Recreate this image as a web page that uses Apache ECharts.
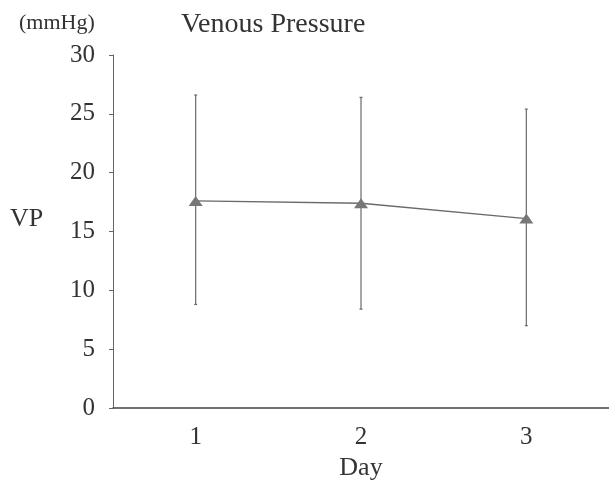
<!DOCTYPE html>
<html>
<head>
<meta charset="utf-8">
<script src="https://cdn.jsdelivr.net/npm/echarts@6/dist/echarts.min.js"></script>
<style>
html,body{margin:0;padding:0;background:#fff;}
#c{width:609px;height:485px;}
</style>
</head>
<body>
<div id="c"></div>
<script>
var days = ['1', '2', '3'];
var vpMean = [17.6, 17.4, 16.1];
var vpUpper = [26.6, 26.4, 25.4];
var vpLower = [8.8, 8.4, 7.0];
var yTicks = [0, 5, 10, 15, 20, 25, 30];

var FONT = '"Liberation Serif", "DejaVu Serif", serif';
var TXT = '#333';
var LINE = '#6a6a6a';

var chart = echarts.init(document.getElementById('c'));
var errData = days.map(function (d, i) { return [i, vpLower[i], vpUpper[i]]; });

chart.setOption({
  animation: false,
  backgroundColor: '#fff',
  title: [
    { text: 'Venous Pressure', left: 176, top: 6, textStyle: { fontFamily: FONT, fontSize: 28, fontWeight: 'normal', color: TXT } },
    { text: '(mmHg)', left: 14, top: 7, textStyle: { fontFamily: FONT, fontSize: 22, fontWeight: 'normal', color: TXT } },
    { text: 'VP', left: 5, top: 201, textStyle: { fontFamily: FONT, fontSize: 26, fontWeight: 'normal', color: TXT } }
  ],
  grid: { left: 113, right: 0, top: 55, bottom: 77, containLabel: false, outerBoundsMode: 'none' },
  xAxis: {
    type: 'category',
    data: days,
    boundaryGap: true,
    name: 'Day',
    nameLocation: 'middle',
    nameGap: 47,
    nameTextStyle: { fontFamily: FONT, fontSize: 26, color: TXT },
    axisLine: { lineStyle: { color: '#444', width: 1.5 } },
    axisTick: { alignWithLabel: true, length: 3, lineStyle: { color: '#666' } },
    axisLabel: { fontFamily: FONT, fontSize: 25, color: TXT, margin: 17 },
    splitLine: { show: false }
  },
  yAxis: {
    type: 'value',
    min: yTicks[0],
    max: yTicks[yTicks.length - 1],
    interval: 5,
    axisLine: { show: true, lineStyle: { color: '#666', width: 1 } },
    axisTick: { show: true, length: 4, lineStyle: { color: '#666' } },
    axisLabel: { fontFamily: FONT, fontSize: 25, color: TXT, margin: 18 },
    splitLine: { show: false }
  },
  series: [
    {
      type: 'custom',
      data: errData,
      z: 2,
      renderItem: function (params, api) {
        var x = api.value(0);
        var lo = api.coord([x, api.value(1)]);
        var hi = api.coord([x, api.value(2)]);
        var c = 1.5;
        var st = { stroke: LINE, lineWidth: 1.2, fill: null };
        return {
          type: 'group',
          children: [
            { type: 'line', shape: { x1: hi[0], y1: hi[1], x2: lo[0], y2: lo[1] }, style: st },
            { type: 'line', shape: { x1: hi[0] - c, y1: hi[1], x2: hi[0] + c, y2: hi[1] }, style: st },
            { type: 'line', shape: { x1: lo[0] - c, y1: lo[1], x2: lo[0] + c, y2: lo[1] }, style: st }
          ]
        };
      }
    },
    {
      type: 'line',
      data: vpMean,
      z: 3,
      symbol: 'triangle',
      symbolSize: [14, 10],
      itemStyle: { color: '#777' },
      lineStyle: { color: LINE, width: 1.3 }
    }
  ]
});
</script>
</body>
</html>
